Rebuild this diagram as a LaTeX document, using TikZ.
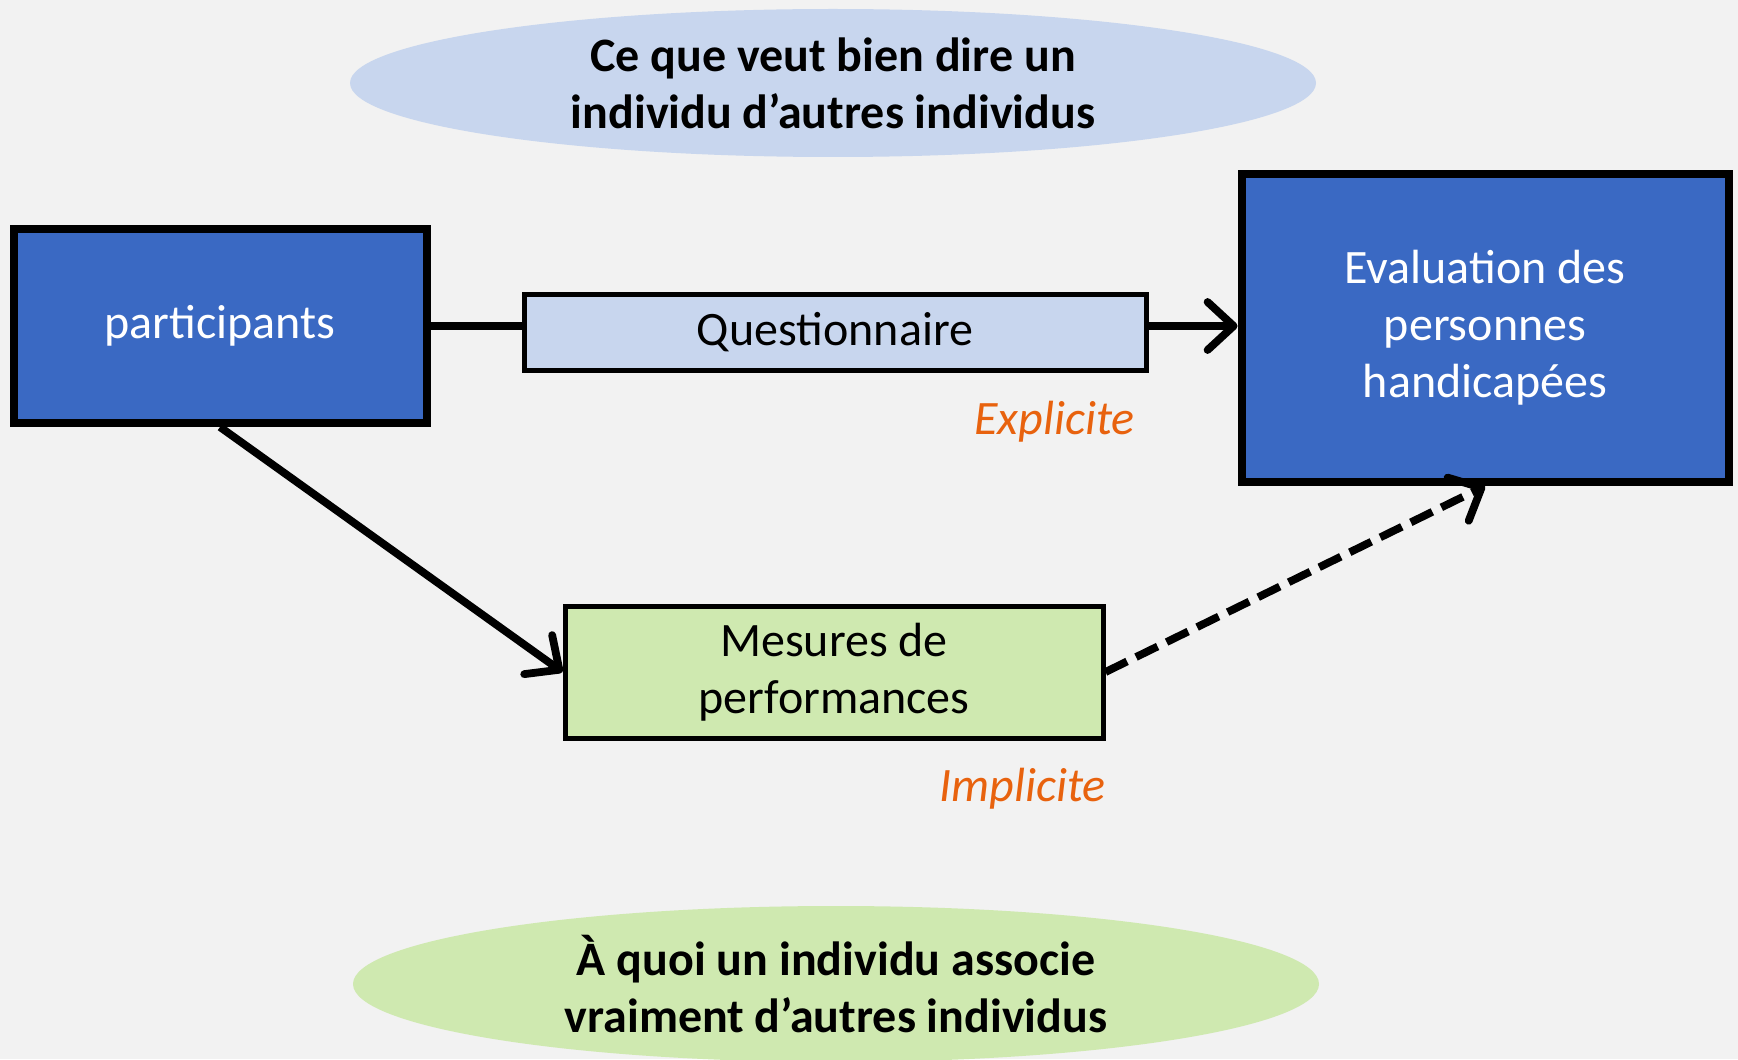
\documentclass[tikz,border=0pt]{standalone}
\usepackage{fontspec}
\setmainfont{Carlito}
\usetikzlibrary{shapes.geometric,arrows.meta}

\definecolor{bgcol}{HTML}{F2F2F2}
\definecolor{boxblue}{HTML}{3A69C3}
\definecolor{paleblue}{HTML}{C8D6EE}
\definecolor{palegreen}{HTML}{CFE9B0}
\definecolor{notecol}{HTML}{E8620E}

\begin{document}
\begin{tikzpicture}[x=0.5pt, y=-0.5pt,
    every node/.style={font=\fontsize{24}{28.5}\selectfont, align=center},
    darkbox/.style={draw=black, line width=4pt, fill=boxblue, text=white, inner sep=0pt},
    lightbox/.style={draw=black, line width=2.5pt, inner sep=0pt},
    bubble/.style={ellipse, inner sep=0pt, font=\fontsize{24}{28.5}\selectfont\bfseries},
    note/.style={text=notecol, font=\fontsize{24}{28.5}\selectfont\itshape, anchor=east},
    link/.style={line width=3.9pt, -{Straight Barb[length=13pt,width=24pt,round]}}]
        % Background
        \fill[bgcol] (0,0) rectangle (1738,1059);
        \useasboundingbox (0,0) rectangle (1738,1059);

        % Top and bottom bubbles
        \node[bubble, fill=paleblue, minimum width=483pt, minimum height=74pt] (said) at (833,83)
            {Ce que veut bien dire un\\individu d’autres individus};
        \node[bubble, fill=palegreen, minimum width=483pt, minimum height=78pt] (meant) at (836,984)
            {À quoi un individu associe\\vraiment d’autres individus};

        % Boxes
        \node[darkbox, minimum width=206.5pt, minimum height=97pt] (part) at (220,326) {participants};
        \node[lightbox, fill=paleblue, minimum width=311pt, minimum height=38pt] (quest) at (835,332) {Questionnaire};
        \node[darkbox, minimum width=243.5pt, minimum height=154pt] (eval) at (1485,328)
            {Evaluation des\\personnes\\handicapées};
        \node[lightbox, fill=palegreen, minimum width=269pt, minimum height=66pt] (perf) at (834,672)
            {Mesures de\\performances};

        % Labels
        \node[note] (expl) at (1142,422) {Explicite};
        \node[note] (impl) at (1113,789) {Implicite};

        % Connectors
        \draw[line width=3.9pt] (part.east) -- (part.east -| quest.west);
        \draw[link] (quest.east |- part.east) -- (eval.west |- part.east);
        \draw[link] (part.south) -- (perf.west);
        \draw[link, dash pattern=on 12pt off 5pt] (perf.east) -- (eval.south);
    \end{tikzpicture}
\end{document}
